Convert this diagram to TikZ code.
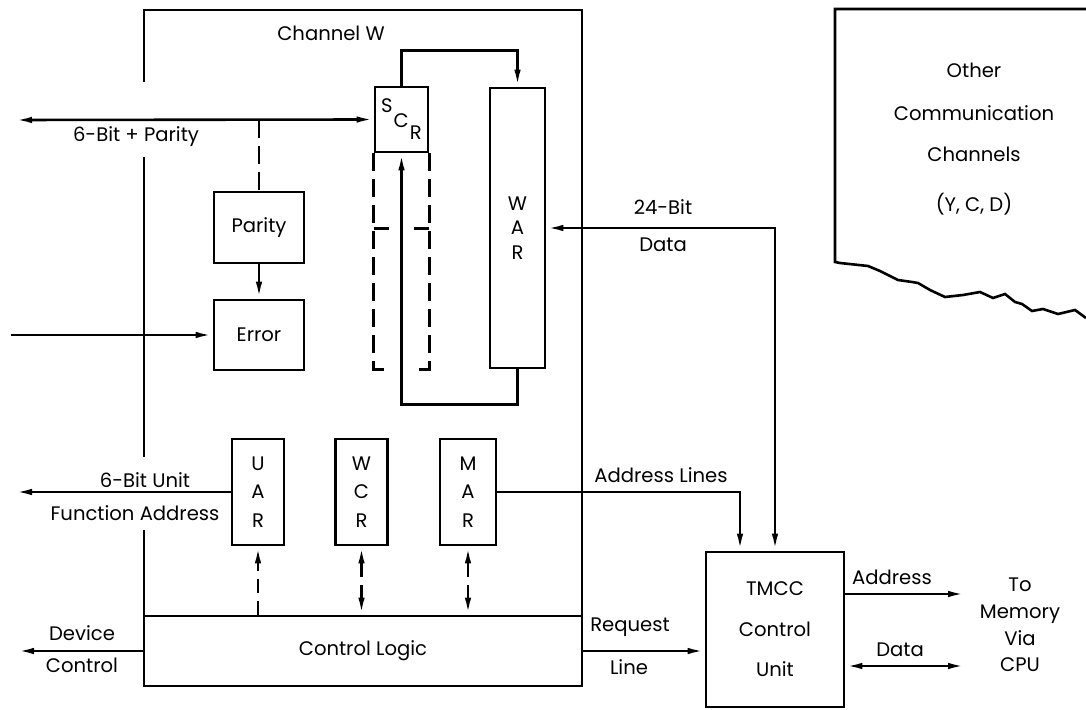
\documentclass[tikz,border=0pt]{standalone}
\usepackage{fontspec}
\setmainfont{Poppins}
\usetikzlibrary{arrows.meta,positioning,calc}

\begin{document}
\begin{tikzpicture}[x=0.5pt, y=-0.5pt, line width=1.3pt,
  >={Latex[length=8.5pt,width=3.2pt]},
  every node/.style={font=\fontsize{9.8}{11.8}\selectfont, inner sep=0pt},
  blk/.style={draw, line width=1.3pt, align=center},
  reg/.style={blk, minimum width=26pt, minimum height=53pt},
  lbl/.style={align=center},
  dsh/.style={dash pattern=on 9pt off 4pt}]
  \useasboundingbox (0,0) rectangle (1086,710);

  % Channel W frame, left side broken where the lines leave
  \draw (144,82) -- (144,10) -- (582,10) -- (582,616);
  \draw (144,157) -- (144,457);
  \draw (144,530) -- (144,616);
  \node (chw) at (331,33) {Channel W};

  % Registers and blocks
  \node[blk, minimum width=26.5pt, minimum height=32.5pt] (scr) at (401.5,119.5)
    {\raisebox{7.5pt}{S}\kern0.5pt C\kern0.5pt\raisebox{-6pt}{R}};
  \node[blk, minimum width=27.5pt, minimum height=140pt] (war) at (517.5,228)
    {W\\[0.5pt]A\\[0.5pt]R};
  \node[blk, minimum width=45pt, minimum height=35.5pt] (par) at (259,227.5) {Parity};
  \node[blk, minimum width=45pt, minimum height=35pt] (err) at (259,335) {Error};
  \node[reg] (uar) at (258,492) {U\\[2.5pt]A\\[2.5pt]R};
  \node[reg] (wcr) at (361.5,492) {W\\[2.5pt]C\\[2.5pt]R};
  \node[reg, minimum width=28pt] (mar) at (468,492) {M\\[2.5pt]A\\[2.5pt]R};
  \node[blk, minimum width=219pt, minimum height=35pt] (ctl) at (363,651) {Control Logic};
  \node[blk, minimum width=69pt, minimum height=77.5pt] (tmcc) at (775,629.5)
    {TMCC\\[8.5pt]Control\\[8.5pt]Unit};

  % Other channels (torn edge)
  \draw (1086,9) -- (835,9) -- (835,262) -- (840,263) -- (868,266) -- (880,271)
    -- (898,280) -- (912,282) -- (918,283) -- (930,290) -- (945,297) -- (963,295)
    -- (980,292) -- (993,298) -- (1005,294) -- (1015,302) -- (1022,304)
    -- (1032,311) -- (1043,309) -- (1058,314) -- (1075,310) -- (1086,318);
  \node[lbl, anchor=north] (oth) at (974,62)
    {Other\\[9.5pt]Communication\\[9pt]Channels\\[13pt](Y, C, D)};

  % 6-bit + parity path
  \coordinate (pl) at (15,120);
  \coordinate (tap) at (259,120);
  \draw[<->] (pl) -- (scr.west);
  \node (pbl) at (136,137) {6-Bit + Parity};
  \draw[dsh] (tap) -- (par.north);
  \draw[->] (par) -- (err);
  \coordinate (el) at (11,335);
  \draw[->] (el) -- (err.west);

  % SCR / WAR loop
  \draw[->] (scr.north) -- ++(0,-35) -| (war.north);
  \draw[->] (war.south) -- ++(0,35) -| (scr.south);
  \draw[dsh] (scr.south west) -- ++(0,216) -- ++(15,0);
  \draw[dsh] (scr.south east) -- ++(0,216) -- ++(-15,0);
  \draw ($(scr.south west)+(0,75)$) -- ++(15,0);
  \draw ($(scr.south east)+(0,75)$) -- ++(-15,0);

  % 24-bit data
  \draw[<->] (war.east) -| (tmcc.north);
  \node (dt1) at (663,207) {24-Bit};
  \node (dt2) at (663,245) {Data};

  % Unit address, address lines
  \coordinate (ul) at (15,492);
  \draw[->] (uar.west) -- (ul);
  \node (ua1) at (145,480) {6-Bit Unit};
  \node (ua2) at (135,513) {Function Address};
  \draw[->] (mar.east) -| ([xshift=-17.5pt]tmcc.north);
  \node (adl) at (661,475) {Address Lines};

  % Control logic links
  \draw[dsh, dash pattern=on 7pt off 4pt, ->] (uar.south |- ctl.north) -- (uar.south);
  \draw[dsh, dash pattern=on 7pt off 4pt, <->] (wcr.south |- ctl.north) -- (wcr.south);
  \draw[dsh, dash pattern=on 7pt off 4pt, <->] (mar.south |- ctl.north) -- (mar.south);
  \coordinate (dl) at (17,651);
  \draw[->] (ctl.west) -- (dl);
  \node (dv1) at (82,633) {Device};
  \node (dv2) at (82,665) {Control};
  \draw[->] (ctl.east) -- (tmcc.west |- ctl.east);
  \node (rq1) at (630,627) {Request};
  \node (rq2) at (629,667) {Line};

  % To memory
  \coordinate (ao) at (965,594);
  \coordinate (do) at (965,666);
  \draw[->] (tmcc.east |- ao) -- (ao);
  \draw[<->] (tmcc.east |- do) -- (do);
  \node (ad) at (892,577) {Address};
  \node (dd) at (900,650) {Data};
  \node[lbl] (mem) at (1020,625) {To\\[1.5pt]Memory\\[1.5pt]Via\\[1.5pt]CPU};
\end{tikzpicture}
\end{document}
